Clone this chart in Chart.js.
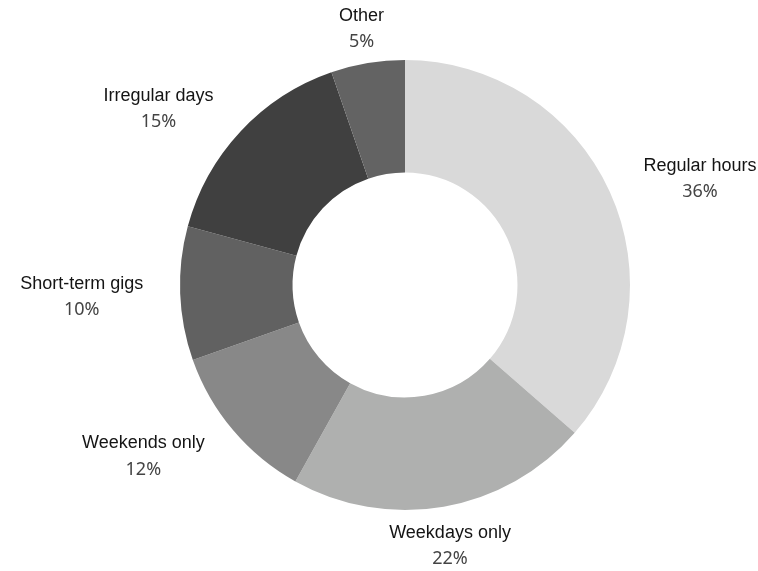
<!DOCTYPE html>
<html>
<head>
<meta charset="utf-8">
<script src="https://cdn.jsdelivr.net/npm/chart.js@4/dist/chart.umd.min.js"></script>
<style>
  html, body { margin: 0; padding: 0; background: #ffffff; }
  #wrap { width: 758px; height: 571px; }
</style>
</head>
<body>
<div id="wrap"><canvas id="c" width="758" height="571"></canvas></div>
<script>
const categories = ["Regular hours", "Weekdays only", "Weekends only", "Short-term gigs", "Irregular days", "Other"];
const shares = [36.4, 21.7, 11.5, 9.6, 15.5, 5.3];
const pctLabels = ["36%", "22%", "12%", "10%", "15%", "5%"];
const sliceColors = ["#d9d9d9", "#afb0af", "#888888", "#616161", "#404040", "#636363"];

const outsideLabels = {
  id: "outsideLabels",
  afterDatasetsDraw(chart) {
    const ctx = chart.ctx;
    const meta = chart.getDatasetMeta(0);
    meta.data.forEach((arc, i) => {
      const p = arc.getProps(["x", "y", "startAngle", "endAngle", "outerRadius"], true);
      const mid = (p.startAngle + p.endAngle) / 2;
      const r = p.outerRadius + 37;
      const ax = p.x + Math.cos(mid) * r;
      const ay = p.y + Math.sin(mid) * r;
      const nameFont = "18px 'Liberation Sans', Arial, sans-serif";
      const pctFont = "18px 'Noto Sans', sans-serif";
      ctx.save();
      ctx.font = nameFont;
      const wName = ctx.measureText(categories[i]).width;
      ctx.font = pctFont;
      const wPct = ctx.measureText(pctLabels[i]).width;
      const w = Math.max(wName, wPct);
      const c = Math.cos(mid);
      let cx;
      if (c > 0.5) cx = ax + w / 2;
      else if (c < -0.5) cx = ax - w / 2;
      else cx = ax;
      const cy = ay + 2.5;
      ctx.textAlign = "center";
      ctx.textBaseline = "middle";
      ctx.font = nameFont;
      ctx.fillStyle = "#141414";
      ctx.fillText(categories[i], cx, cy - 13);
      ctx.font = pctFont;
      ctx.fillStyle = "#444444";
      ctx.fillText(pctLabels[i], cx, cy + 13);
      ctx.restore();
    });
  }
};

new Chart(document.getElementById("c"), {
  type: "doughnut",
  data: {
    labels: categories,
    datasets: [{
      data: shares,
      backgroundColor: sliceColors,
      borderWidth: 0,
      hoverOffset: 0
    }]
  },
  options: {
    responsive: false,
    devicePixelRatio: 1,
    animation: false,
    cutout: "50%",
    layout: { padding: { left: 150, right: 98, top: 60, bottom: 61 } },
    plugins: {
      legend: { display: false },
      tooltip: { enabled: false }
    }
  },
  plugins: [outsideLabels]
});
</script>
</body>
</html>
